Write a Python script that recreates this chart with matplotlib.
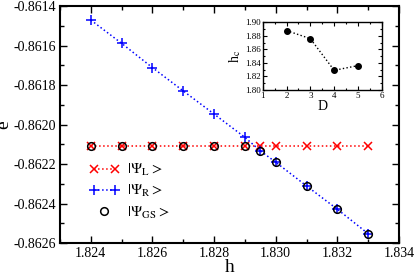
import numpy as np
import matplotlib
matplotlib.use('Agg')
import matplotlib.pyplot as plt
from matplotlib.ticker import MultipleLocator, FormatStrFormatter
from matplotlib.legend_handler import HandlerLine2D

plt.rcParams['font.family'] = ['Liberation Serif', 'DejaVu Serif']
plt.rcParams['mathtext.fontset'] = 'stix'

# main panel data
h = [1.824, 1.825, 1.826, 1.827, 1.828, 1.829, 1.8295, 1.830, 1.831, 1.832, 1.833]
e_L = [-0.86211] * len(h)
e_R = [-0.861471, -0.861589, -0.861712, -0.86183, -0.861947, -0.862065,
       -0.862133, -0.862191, -0.862311, -0.862429, -0.862553]
h_gs = h
e_gs = [-0.86211, -0.86211, -0.86211, -0.86211, -0.86211, -0.86211,
        -0.862133, -0.862191, -0.862311, -0.862429, -0.862553]

# inset data
D = [2, 3, 4, 5]
hc = [1.888, 1.876, 1.829, 1.836]

fig = plt.figure(figsize=(4.15, 2.74), dpi=100)
ax = fig.add_axes([0.1446, 0.1131, 0.8168, 0.8649])

ax.plot(h, e_L, ls=':', color='red', marker='x', ms=5.5, mew=1.1, lw=1.1,
        label=r'$|\Psi_\mathrm{L}>$')
ax.plot(h, e_R, ls=':', color='blue', marker='+', ms=7.5, mew=1.1, lw=1.1,
        label=r'$|\Psi_\mathrm{R}>$')
gs, = ax.plot(h_gs, e_gs, ls='none', marker='o', mfc='none', mec='black',
              ms=5.5, mew=1.1, label=r'$|\Psi_\mathrm{GS}>$')

ax.set_xlim(1.823, 1.834)
ax.set_ylim(-0.8626, -0.8614)
ax.xaxis.set_major_locator(MultipleLocator(0.002))
ax.xaxis.set_minor_locator(MultipleLocator(0.001))
ax.yaxis.set_major_locator(MultipleLocator(0.0002))
ax.yaxis.set_minor_locator(MultipleLocator(0.0001))
ax.xaxis.set_major_formatter(FormatStrFormatter('%.3f'))
ax.yaxis.set_major_formatter(FormatStrFormatter('%.4f'))
ax.tick_params(which='both', direction='in', top=True, right=True,
               labelsize=10, width=1, pad=3)
ax.tick_params(which='major', length=5)
ax.tick_params(which='minor', length=3)
for s in ax.spines.values():
    s.set_linewidth(1.5)

ax.set_xlabel('h', fontsize=14, labelpad=-1)
ax.set_ylabel('e', fontsize=14, labelpad=1)

ax.legend(loc='center left', bbox_to_anchor=(0.068, 0.218), frameon=False,
          numpoints=2, fontsize=11, handlelength=2.0, handletextpad=0.5,
          labelspacing=0.35, borderaxespad=0.0,
          handler_map={gs: HandlerLine2D(numpoints=1)})

# inset
ins = fig.add_axes([0.633, 0.672, 0.287, 0.246])
ins.plot(D, hc, ls=':', color='black', marker='o', ms=4, lw=1)
ins.set_xlim(1, 6)
ins.set_ylim(1.80, 1.90)
ins.xaxis.set_major_locator(MultipleLocator(1))
ins.xaxis.set_minor_locator(MultipleLocator(0.5))
ins.yaxis.set_major_locator(MultipleLocator(0.02))
ins.yaxis.set_minor_locator(MultipleLocator(0.01))
ins.yaxis.set_major_formatter(FormatStrFormatter('%.2f'))
ins.tick_params(which='both', direction='in', top=True, right=True,
                labelsize=6.5, pad=1.5, width=0.8)
ins.tick_params(which='major', length=3)
ins.tick_params(which='minor', length=1.5)
for s in ins.spines.values():
    s.set_linewidth(1.0)
ins.set_xlabel('D', fontsize=10, labelpad=0)
ins.set_ylabel(r'h$_\mathrm{c}$', fontsize=10, labelpad=1)

fig.savefig('out.png', dpi=100)
